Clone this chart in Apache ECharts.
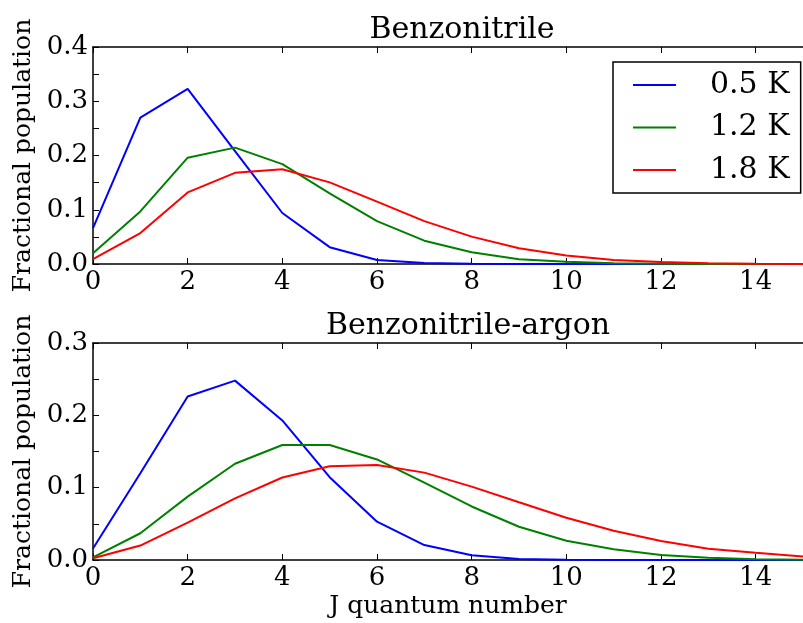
<!DOCTYPE html>
<html>
<head>
<meta charset="utf-8">
<script src="https://cdn.jsdelivr.net/npm/echarts@6/dist/echarts.min.js"></script>
<style>
  html, body { margin: 0; padding: 0; background: #fff; }
  #chart { width: 803px; height: 623px; }
</style>
</head>
<body>
<div id="chart"></div>
<script>
// Rotational quantum number J
const jValues = [0, 1, 2, 3, 4, 5, 6, 7, 8, 9, 10, 11, 12, 13, 14, 15];
const seriesNames = ['0.5 K', '1.2 K', '1.8 K'];

// Benzonitrile: fractional population per J level
const benzo05 = [0.066, 0.270, 0.323, 0.208, 0.094, 0.031, 0.0075, 0.002, 0.0005, 0.0001, 0, 0, 0, 0, 0, 0];
const benzo12 = [0.020, 0.097, 0.196, 0.2145, 0.184, 0.130, 0.079, 0.043, 0.0215, 0.0088, 0.004, 0.0015, 0.0005, 0.0002, 0.0001, 0];
const benzo18 = [0.009, 0.057, 0.132, 0.168, 0.1745, 0.1505, 0.115, 0.079, 0.0505, 0.029, 0.0155, 0.0075, 0.0037, 0.0015, 0.0006, 0.0002];

// Benzonitrile-argon: fractional population per J level
const argon05 = [0.016, 0.120, 0.226, 0.248, 0.193, 0.1145, 0.053, 0.0207, 0.0065, 0.0015, 0.0003, 0.0001, 0, 0, 0, 0];
const argon12 = [0.0037, 0.037, 0.0876, 0.133, 0.159, 0.159, 0.139, 0.107, 0.074, 0.046, 0.0267, 0.0148, 0.0069, 0.003, 0.0012, 0.0005];
const argon18 = [0.0023, 0.020, 0.0516, 0.0853, 0.114, 0.1295, 0.1314, 0.1208, 0.1014, 0.0798, 0.0585, 0.0405, 0.0263, 0.0157, 0.0101, 0.005];

const titles = ['Benzonitrile', 'Benzonitrile-argon'];
const xAxisName = 'J quantum number';
const yAxisName = 'Fractional population';
const yMax = [0.4, 0.3];

const colors = ['#0000ff', '#008000', '#ff0000'];
const FONT = 'DejaVu Serif';
const TICK_FONT = 26;
const NAME_FONT = 25;
const TITLE_FONT = 30;

const pairs = arr => jValues.map((j, i) => [j, arr[i]]);

const grids = [
  { left: 93, top: 47, width: 720, height: 217 },
  { left: 93, top: 343, width: 720, height: 217 }
];

function yLabel(v) {
  const hundredths = Math.round(v * 100);
  return hundredths % 10 === 0 ? (hundredths / 100).toFixed(1) : '';
}

const tickStyle = { show: true, inside: true, length: 6, lineStyle: { color: '#000', width: 1 } };
const spineStyle = { show: true, onZero: false, lineStyle: { color: '#000', width: 1.5 } };

const xAxes = [];
const yAxes = [];
[0, 1].forEach(g => {
  // bottom axis with labels
  xAxes.push({
    type: 'value', gridIndex: g, min: 0, max: 15, interval: 2,
    position: 'bottom',
    name: g === 1 ? xAxisName : '',
    nameLocation: 'middle', nameGap: 34,
    nameTextStyle: { fontFamily: FONT, fontSize: NAME_FONT, color: '#000' },
    axisLine: spineStyle,
    axisTick: tickStyle,
    axisLabel: { show: true, fontFamily: FONT, fontSize: TICK_FONT, color: '#000', margin: 5, showMaxLabel: false },
    splitLine: { show: false }
  });
  // top spine with inward ticks
  xAxes.push({
    type: 'value', gridIndex: g, min: 0, max: 15, interval: 2,
    position: 'top',
    axisLine: spineStyle,
    axisTick: tickStyle,
    axisLabel: { show: false },
    splitLine: { show: false }
  });
  yAxes.push({
    type: 'value', gridIndex: g, min: 0, max: yMax[g], interval: 0.05,
    name: yAxisName,
    nameLocation: 'middle', nameGap: 55,
    nameTextStyle: { fontFamily: FONT, fontSize: NAME_FONT, color: '#000' },
    axisLine: spineStyle,
    axisTick: tickStyle,
    axisLabel: { fontFamily: FONT, fontSize: TICK_FONT, color: '#000', margin: 5, formatter: yLabel },
    splitLine: { show: false }
  });
});

const dataSets = [[benzo05, benzo12, benzo18], [argon05, argon12, argon18]];
const series = [];
dataSets.forEach((set, g) => {
  set.forEach((arr, k) => {
    series.push({
      type: 'line',
      name: seriesNames[k],
      xAxisIndex: g * 2,
      yAxisIndex: g,
      data: pairs(arr),
      symbol: 'none',
      smooth: false,
      lineStyle: { color: colors[k], width: 2 },
      itemStyle: { color: colors[k] },
      z: 3
    });
  });
});

const chart = echarts.init(document.getElementById('chart'), null, { renderer: 'canvas' });
chart.setOption({
  animation: false,
  backgroundColor: '#fff',
  title: [
    { text: titles[0], left: 457, top: 10, textAlign: 'center',
      textStyle: { fontFamily: FONT, fontSize: TITLE_FONT, fontWeight: 'normal', color: '#000' } },
    { text: titles[1], left: 463, top: 306, textAlign: 'center',
      textStyle: { fontFamily: FONT, fontSize: TITLE_FONT, fontWeight: 'normal', color: '#000' } }
  ],
  legend: {
    data: seriesNames,
    orient: 'vertical',
    left: 613, top: 62,
    padding: [8, 11, 8, 20],
    icon: 'rect',
    itemWidth: 43, itemHeight: 2, itemGap: 12.5,
    borderColor: '#000', borderWidth: 1.5, borderRadius: 0,
    backgroundColor: '#fff',
    textStyle: { fontFamily: FONT, fontSize: 30, lineHeight: 30, color: '#000', padding: [0, 0, 0, 29] }
  },
  grid: grids,
  xAxis: xAxes,
  yAxis: yAxes,
  series: series
});
</script>
</body>
</html>
